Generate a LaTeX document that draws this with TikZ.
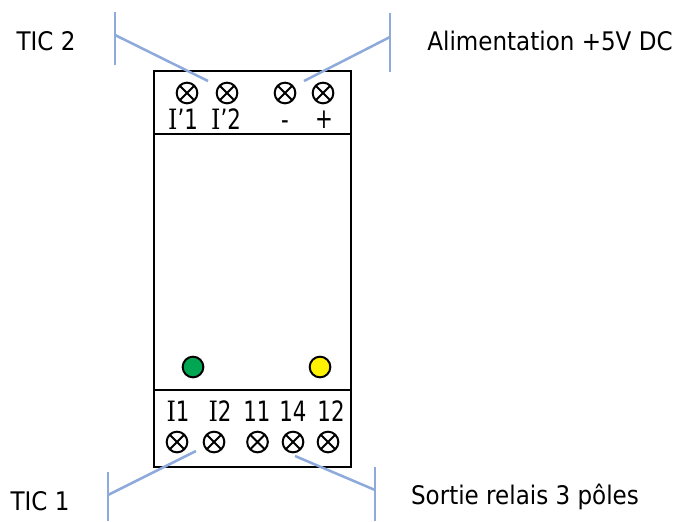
\documentclass[tikz,border=0pt]{standalone}
\usepackage{fontspec}
\setmainfont[FakeStretch=0.9]{DejaVu Sans}
\newfontfamily\termfont[FakeStretch=0.76]{DejaVu Sans}
\newfontfamily\serifI[FakeStretch=0.85]{DejaVu Serif}
\usepackage{xcolor}
\usetikzlibrary{positioning}
\definecolor{wireblue}{HTML}{8EAADB}
\definecolor{ledgreen}{HTML}{00A651}
\definecolor{ledyellow}{HTML}{FFF200}
\newcommand{\terminals}[2]{%
    \foreach \xpos [count=\n] in {#2}{
      \node[terminal] (#1\n) at (\xpos,0) {};
    }
}
\newcommand{\barI}{{\serifI I}}
\tikzset{
    terminal/.style={circle, draw, line width=1.5pt, minimum size=15.5pt, inner sep=0pt,
        path picture={\draw[line width=1.5pt] (path picture bounding box.north west) -- (path picture bounding box.south east)
        (path picture bounding box.north east) -- (path picture bounding box.south west);}},
    led/.style={circle, draw, line width=1.5pt, minimum size=15.5pt, inner sep=0pt},
    termlabel/.style={font=\termfont\fontsize{21}{24}\selectfont, inner sep=0pt},
    caption/.style={font=\fontsize{19.2}{22}\selectfont, inner sep=0pt},
    wire/.style={wireblue, line width=1.9pt}
}

\begin{document}
\begin{tikzpicture}[x=0.75pt, y=-0.75pt]
    \useasboundingbox (0,0) rectangle (677,521);

    % boitier
    \node[draw, line width=2.1pt, minimum width=147.75pt, minimum height=297pt, inner sep=0pt] (case) at (252.5,269) {};
    \coordinate (divtopl) at (154,134);
    \coordinate (divtopr) at (351,134);
    \coordinate (divbotl) at (154,390);
    \coordinate (divbotr) at (351,390);
    \draw[line width=2.1pt] (divtopl) -- (divtopr);
    \draw[line width=2.1pt] (divbotl) -- (divbotr);

    % bornes
    \begin{scope}[yshift=-69.75pt]
    \terminals{t}{187,227,285,323}
    \end{scope}
    \begin{scope}[yshift=-331.5pt]
    \terminals{b}{177,214,257.5,293,328}
    \end{scope}

    \node[termlabel] (lt1) at (183,119) {\barI’1};
    \node[termlabel] (lt2) at (226,119) {\barI’2};
    \node[termlabel] (lt3) at (285,125) {-};
    \node[termlabel] (lt4) at (324,120) {+};

    \node[termlabel] (lb1) at (178,411) {\barI 1};
    \node[termlabel] (lb2) at (220,411) {\barI 2};
    \node[termlabel] (lb3) at (257,411) {11};
    \node[termlabel] (lb4) at (293,411) {14};
    \node[termlabel] (lb5) at (331,411) {12};

    % voyants
    \node[led, fill=ledgreen] (ledg) at (193,367) {};
    \node[led, fill=ledyellow] (ledy) at (320,367) {};

    % textes
    \node[caption] (tic2) at (46,41) {TIC 2};
    \node[caption] (alim) at (550,41) {Alimentation +5V DC};
    \node[caption] (tic1) at (40,501) {TIC 1};
    \node[caption] (sortie) at (525,497) {Sortie relais 3 pôles};

    % renvois
    \coordinate (a1) at (115,12);  \coordinate (a2) at (115,65);
    \coordinate (am) at (115,35);  \coordinate (ae) at (208,81);
    \coordinate (b1) at (390,13);  \coordinate (b2) at (390,72);
    \coordinate (bm) at (390,37);  \coordinate (be) at (304,81);
    \coordinate (c1) at (108,472); \coordinate (c2) at (108,521);
    \coordinate (cm) at (108,495); \coordinate (ce) at (196,451);
    \coordinate (d1) at (375,467); \coordinate (d2) at (375,521);
    \coordinate (dm) at (375,490); \coordinate (de) at (295,456);
    \draw[wire] (a1) -- (a2);
    \draw[wire] (am) -- (ae);
    \draw[wire] (b1) -- (b2);
    \draw[wire] (bm) -- (be);
    \draw[wire] (c1) -- (c2);
    \draw[wire] (cm) -- (ce);
    \draw[wire] (d1) -- (d2);
    \draw[wire] (dm) -- (de);
\end{tikzpicture}
\end{document}
